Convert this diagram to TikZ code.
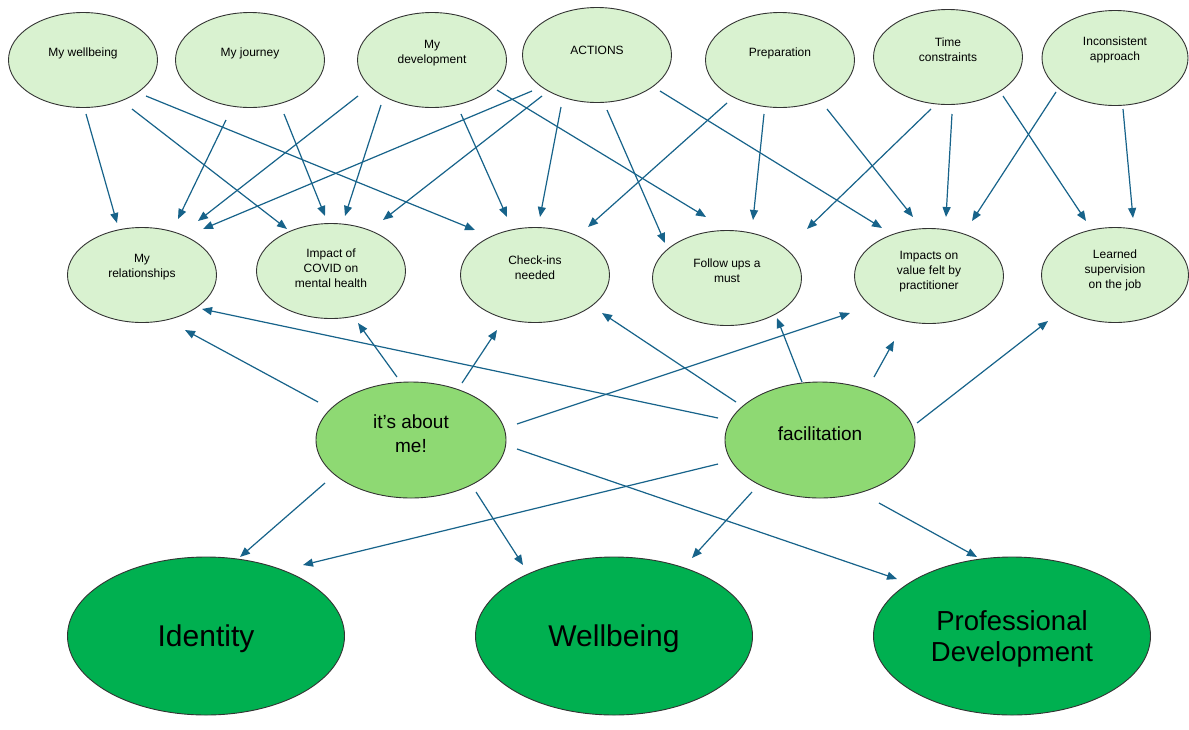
\documentclass[tikz,border=0pt]{standalone}
\usepackage{fontspec}
\setmainfont{Liberation Sans}
\usetikzlibrary{shapes.geometric,arrows.meta,calc}
\definecolor{lightg}{HTML}{D9F2D0}
\definecolor{midg}{HTML}{8ED973}
\definecolor{darkg}{HTML}{00B050}
\definecolor{arrc}{HTML}{17638A}
\definecolor{edgec}{HTML}{333333}
\tikzset{
  smallnode/.style={ellipse, draw=edgec, line width=0.9pt, fill=lightg, inner sep=0pt,
    minimum width=149pt, minimum height=95pt},
  midnode/.style={ellipse, draw=edgec, line width=0.9pt, fill=midg, inner sep=0pt,
    minimum width=190pt, minimum height=116pt},
  bignode/.style={ellipse, draw=edgec, line width=0.9pt, fill=darkg, inner sep=0pt,
    minimum width=277pt, minimum height=158pt},
  smalltext/.style={align=center, font=\fontsize{12}{15}\selectfont, inner sep=0pt},
  midtext/.style={align=center, font=\fontsize{19}{24}\selectfont, inner sep=0pt},
  bigtext/.style={align=center, font=\fontsize{30}{31}\selectfont, inner sep=0pt},
  pdtext/.style={align=center, font=\fontsize{27.5}{31}\selectfont, inner sep=0pt},
  arr/.style={draw=arrc, line width=1.2pt, -{Triangle[length=10pt,width=8pt]}}
}
\begin{document}
\begin{tikzpicture}[x=1pt,y=-1pt]
\useasboundingbox[fill=white] (0,0) rectangle (1189,729);
% top row
\node[smallnode, label={[smalltext,yshift=7pt]center:My wellbeing}] (wb) at (83,60) {};
\node[smallnode, label={[smalltext,yshift=7pt]center:My journey}] (jr) at (250,60) {};
\node[smallnode, label={[smalltext,yshift=7pt]center:My\\development}] (dev) at (432,60) {};
\node[smallnode, label={[smalltext,yshift=5pt]center:ACTIONS}] (act) at (597,55) {};
\node[smallnode, label={[smalltext,yshift=7pt]center:Preparation}] (prep) at (780,60) {};
\node[smallnode, label={[smalltext,yshift=7pt]center:Time\\constraints}] (time) at (948,57) {};
\node[smallnode, minimum width=146pt, label={[smalltext,yshift=8pt]center:Inconsistent\\approach}] (inc) at (1115,58) {};
% middle row
\node[smallnode, label={[smalltext,yshift=7.5pt]center:My\\relationships}] (rel) at (142,275) {};
\node[smallnode, label={[smalltext,yshift=3pt]center:Impact of\\COVID on\\mental health}] (cov) at (331,271) {};
\node[smallnode, label={[smalltext,yshift=7pt]center:Check-ins\\needed}] (chk) at (535,275) {};
\node[smallnode, label={[smalltext,yshift=7pt]center:Follow ups a\\must}] (fol) at (727,278) {};
\node[smallnode, label={[smalltext,yshift=4.5pt]center:Impacts on\\value felt by\\practitioner}] (imp) at (929,276) {};
\node[smallnode, minimum width=147pt, label={[smalltext,yshift=5pt]center:Learned\\supervision\\on the job}] (lrn) at (1115,275) {};
% second level
\node[midnode, label={[midtext,yshift=6pt]center:it’s about\\me!}] (me) at (411,440) {};
\node[midnode, label={[midtext,yshift=6pt]center:facilitation}] (fac) at (820,440) {};
% bottom
\node[bignode, label={[bigtext,yshift=-3pt]center:Identity}] (id) at (206,636) {};
\node[bignode, label={[bigtext,yshift=-3pt]center:Wellbeing}] (wel) at (614,636) {};
\node[bignode, label={[pdtext,yshift=-3pt]center:Professional\\Development}] (pd) at (1012,636) {};
% connectors top -> middle
\draw[arr] ($(wb)+(3,54)$) -- ($(rel)+(-25,-52)$);
\draw[arr] ($(wb)+(49,49)$) -- ($(cov)+(-44,-42)$);
\draw[arr] ($(wb)+(63,36)$) -- ($(chk)+(-60,-45)$);
\draw[arr] ($(jr)+(-24,60)$) -- ($(rel)+(36,-56)$);
\draw[arr] ($(jr)+(34,54)$) -- ($(cov)+(-6,-55)$);
\draw[arr] ($(dev)+(-74,36)$) -- ($(rel)+(56,-54)$);
\draw[arr] ($(dev)+(-51,45)$) -- ($(cov)+(14,-55)$);
\draw[arr] ($(act)+(-65,36)$) -- ($(rel)+(61,-46)$);
\draw[arr] ($(act)+(-55,41)$) -- ($(cov)+(52,-51)$);
\draw[arr] ($(dev)+(29,54)$) -- ($(chk)+(-28,-58)$);
\draw[arr] ($(act)+(-36,52)$) -- ($(chk)+(5,-58)$);
\draw[arr] ($(dev)+(65,30)$) -- ($(fol)+(-21,-61)$);
\draw[arr] ($(act)+(10,55)$) -- ($(fol)+(-62,-35)$);
\draw[arr] ($(prep)+(-53,43)$) -- ($(chk)+(53,-48)$);
\draw[arr] ($(prep)+(-16,54)$) -- ($(fol)+(26,-58)$);
\draw[arr] ($(act)+(63,36)$) -- ($(imp)+(-47,-48)$);
\draw[arr] ($(prep)+(47,49)$) -- ($(imp)+(-16,-59)$);
\draw[arr] ($(time)+(-17,52)$) -- ($(fol)+(80,-49)$);
\draw[arr] ($(time)+(4,57)$) -- ($(imp)+(17,-59)$);
\draw[arr] ($(inc)+(-59,34)$) -- ($(imp)+(43,-55)$);
\draw[arr] ($(time)+(55,39)$) -- ($(lrn)+(-29,-54)$);
\draw[arr] ($(inc)+(8,51)$) -- ($(lrn)+(18,-57)$);
% second level -> middle row
\draw[arr] ($(me)+(-93,-38)$) -- ($(rel)+(43,55)$);
\draw[arr] ($(fac)+(-102,-22)$) -- ($(rel)+(60,34)$);
\draw[arr] ($(me)+(-14,-63)$) -- ($(cov)+(27,52)$);
\draw[arr] ($(me)+(51,-57)$) -- ($(chk)+(-38,55)$);
\draw[arr] ($(fac)+(-84,-38)$) -- ($(chk)+(67,38)$);
\draw[arr] ($(me)+(106,-16)$) -- ($(imp)+(-79,37)$);
\draw[arr] ($(fac)+(-18,-58)$) -- ($(fol)+(50,40)$);
\draw[arr] ($(fac)+(54,-63)$) -- ($(imp)+(-35,65)$);
\draw[arr] ($(fac)+(97,-17)$) -- ($(lrn)+(-67,46)$);
% second level -> bottom
\draw[arr] ($(me)+(-86,43)$) -- ($(id)+(34,-79)$);
\draw[arr] ($(fac)+(-102,24)$) -- ($(id)+(97,-71)$);
\draw[arr] ($(me)+(65,52)$) -- ($(wel)+(-91,-71)$);
\draw[arr] ($(fac)+(-68,52)$) -- ($(wel)+(78,-78)$);
\draw[arr] ($(me)+(106,9)$) -- ($(pd)+(-115,-57)$);
\draw[arr] ($(fac)+(59,63)$) -- ($(pd)+(-35,-79)$);
\end{tikzpicture}
\end{document}
